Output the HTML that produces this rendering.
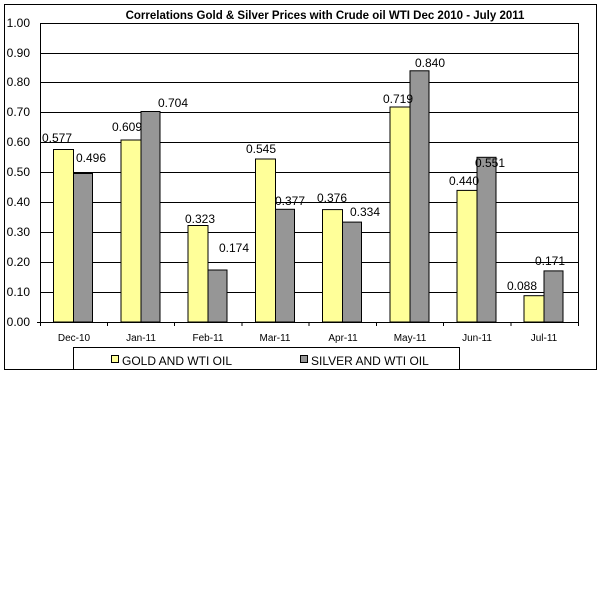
<!DOCTYPE html>
<html><head><meta charset="utf-8"><style>
body{margin:0;background:#fff}
svg{display:block;font-family:"Liberation Sans",Arial,sans-serif}
</style></head><body>
<svg width="601" height="601" viewBox="0 0 601 601" xmlns="http://www.w3.org/2000/svg">
<rect x="0" y="0" width="601" height="601" fill="#fff"/>
<rect x="4.5" y="4.5" width="592" height="365" fill="#fff" stroke="#000" stroke-width="1"/>
<text x="325" y="19" font-size="11.5" font-weight="bold" text-anchor="middle">Correlations Gold &amp; Silver Prices with Crude oil WTI  Dec 2010 - July  2011</text>
<g stroke="#000" stroke-width="1">
<line x1="40" y1="23.5" x2="579" y2="23.5"/>
<line x1="40" y1="53.5" x2="579" y2="53.5"/>
<line x1="40" y1="82.5" x2="579" y2="82.5"/>
<line x1="40" y1="112.5" x2="579" y2="112.5"/>
<line x1="40" y1="142.5" x2="579" y2="142.5"/>
<line x1="40" y1="172.5" x2="579" y2="172.5"/>
<line x1="40" y1="202.5" x2="579" y2="202.5"/>
<line x1="40" y1="232.5" x2="579" y2="232.5"/>
<line x1="40" y1="262.5" x2="579" y2="262.5"/>
<line x1="40" y1="292.5" x2="579" y2="292.5"/>
<line x1="578.5" y1="23" x2="578.5" y2="322"/>
</g>
<g font-size="12" text-anchor="end">
<text x="30" y="27">1.00</text><text x="30" y="57">0.90</text><text x="30" y="86">0.80</text>
<text x="30" y="116">0.70</text><text x="30" y="146">0.60</text><text x="30" y="176">0.50</text>
<text x="30" y="206">0.40</text><text x="30" y="236">0.30</text><text x="30" y="266">0.20</text>
<text x="30" y="296">0.10</text><text x="30" y="326">0.00</text>
</g>
<g stroke="#000" stroke-width="1">
<rect x="53.5" y="149.5" width="20" height="172.5" fill="#ffff99"/>
<rect x="73.5" y="173.5" width="19" height="148.5" fill="#969696"/>
<rect x="121" y="140" width="20" height="182" fill="#ffff99"/>
<rect x="141" y="111.5" width="19" height="210.5" fill="#969696"/>
<rect x="188" y="225.5" width="20" height="96.5" fill="#ffff99"/>
<rect x="208" y="270" width="19" height="52" fill="#969696"/>
<rect x="255.5" y="159" width="20" height="163" fill="#ffff99"/>
<rect x="275.5" y="209.3" width="19" height="112.7" fill="#969696"/>
<rect x="322.5" y="209.6" width="20" height="112.4" fill="#ffff99"/>
<rect x="342.5" y="222.1" width="19" height="99.9" fill="#969696"/>
<rect x="390" y="107" width="20" height="215" fill="#ffff99"/>
<rect x="410" y="70.8" width="19" height="251.2" fill="#969696"/>
<rect x="457" y="190.4" width="20" height="131.6" fill="#ffff99"/>
<rect x="477" y="157.3" width="19" height="164.7" fill="#969696"/>
<rect x="524" y="295.7" width="20" height="26.3" fill="#ffff99"/>
<rect x="544" y="270.9" width="19" height="51.1" fill="#969696"/>
<line x1="40.5" y1="23" x2="40.5" y2="322"/>
<line x1="37" y1="322.5" x2="579" y2="322.5"/>
<line x1="40.5" y1="322" x2="40.5" y2="326"/><line x1="107.5" y1="322" x2="107.5" y2="326"/>
<line x1="174.5" y1="322" x2="174.5" y2="326"/><line x1="242" y1="322" x2="242" y2="326"/>
<line x1="309" y1="322" x2="309" y2="326"/><line x1="376.5" y1="322" x2="376.5" y2="326"/>
<line x1="443.5" y1="322" x2="443.5" y2="326"/><line x1="511" y1="322" x2="511" y2="326"/>
<line x1="578.5" y1="322" x2="578.5" y2="326"/>
</g>
<g font-size="12" text-anchor="middle">
<text x="57" y="142">0.577</text><text x="91" y="162">0.496</text>
<text x="127" y="131">0.609</text><text x="173" y="107">0.704</text>
<text x="200" y="223">0.323</text><text x="234" y="252">0.174</text>
<text x="261" y="153">0.545</text><text x="290" y="205">0.377</text>
<text x="332" y="202">0.376</text><text x="365" y="216">0.334</text>
<text x="398" y="103">0.719</text><text x="430" y="67">0.840</text>
<text x="464" y="185">0.440</text><text x="490" y="167">0.551</text>
<text x="522" y="290">0.088</text><text x="550" y="265">0.171</text>
</g>
<g font-size="10" text-anchor="middle">
<text x="74" y="341">Dec-10</text><text x="141" y="341">Jan-11</text>
<text x="208" y="341">Feb-11</text><text x="275" y="341">Mar-11</text>
<text x="343" y="341">Apr-11</text><text x="410" y="341">May-11</text>
<text x="477" y="341">Jun-11</text><text x="544" y="341">Jul-11</text>
</g>
<rect x="73.5" y="347.5" width="386" height="22" fill="#fff" stroke="#000" stroke-width="1"/>
<rect x="111.5" y="355.5" width="7" height="7" fill="#ffff99" stroke="#000" stroke-width="1"/>
<text x="122" y="365" font-size="12">GOLD AND WTI OIL</text>
<rect x="300.5" y="355.5" width="7" height="7" fill="#969696" stroke="#000" stroke-width="1"/>
<text x="311" y="365" font-size="12">SILVER AND WTI OIL</text>
</svg>
</body></html>
